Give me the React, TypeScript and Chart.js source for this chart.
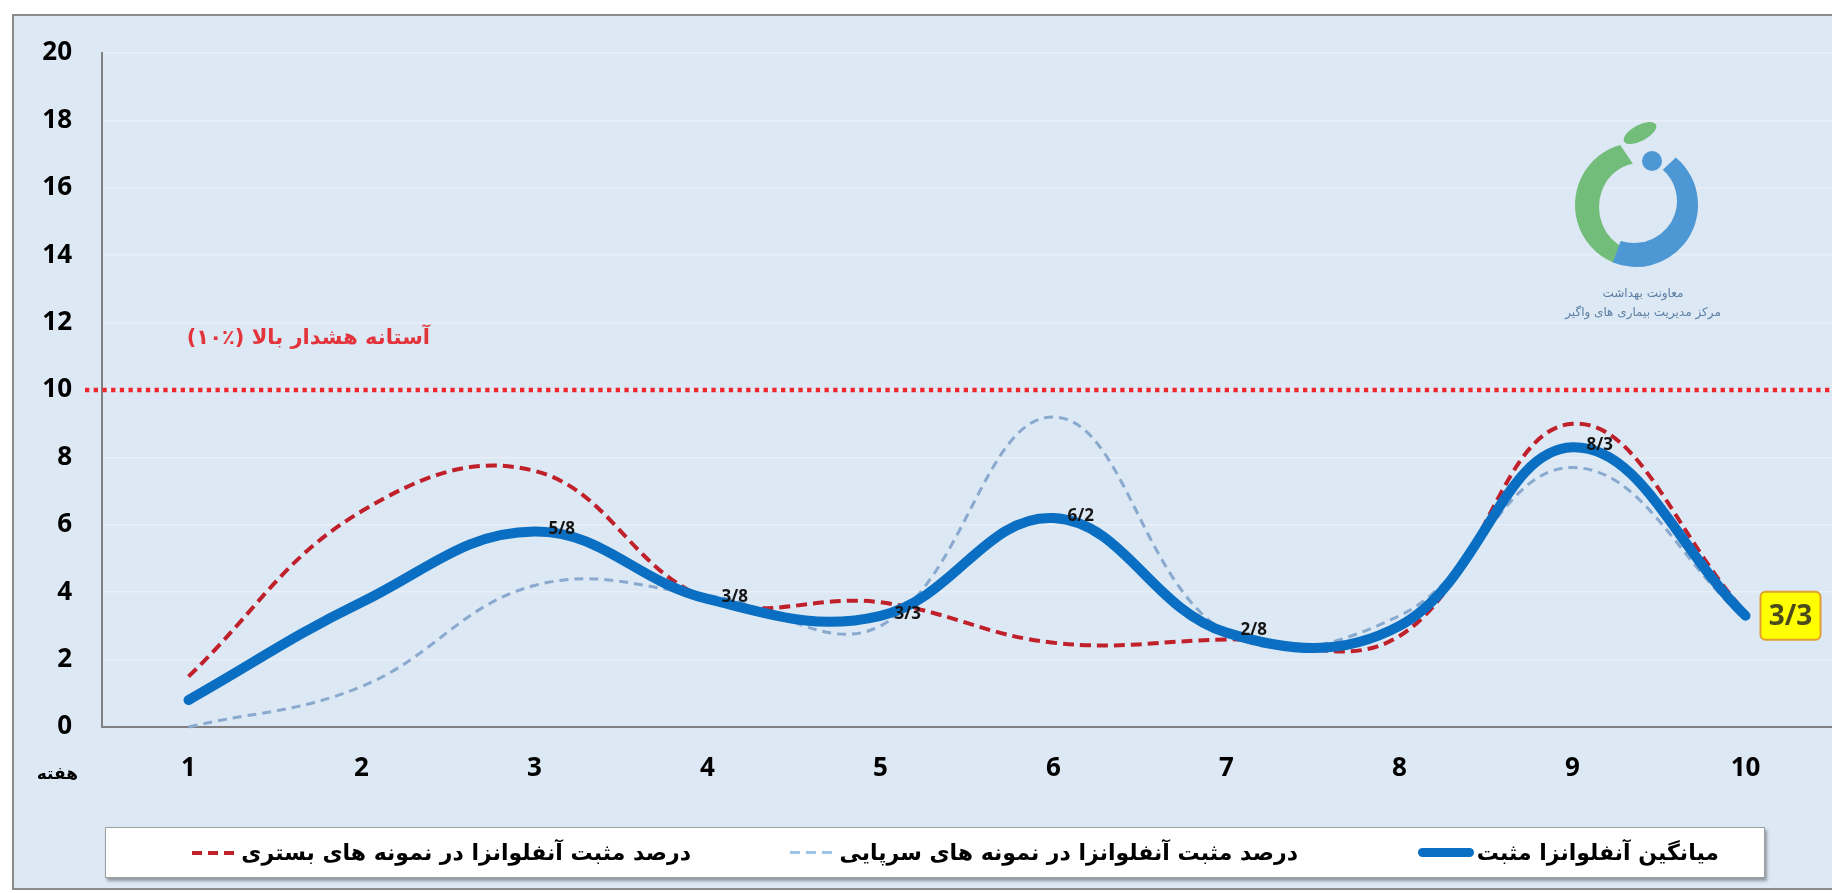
import React, { useEffect, useRef } from "react";
import { Chart, registerables } from "chart.js";

Chart.register(...registerables);

// ---- data ----
const weeks = ["1", "2", "3", "4", "5", "6", "7", "8", "9", "10"];
const averagePositive = [0.8, 3.7, 5.8, 3.8, 3.3, 6.2, 2.8, 3.0, 8.3, 3.3];
const inpatientPositive = [1.5, 6.4, 7.6, 3.8, 3.7, 2.5, 2.6, 2.7, 9.0, 3.4];
const outpatientPositive = [0.0, 1.2, 4.2, 3.9, 3.0, 9.2, 2.8, 3.3, 7.7, 3.2];
const averageLabelShown = [false, false, true, true, true, true, true, false, true, true];
const yMin = 0;
const yMax = 20;
const yStep = 2;
const threshold = 10;
const thresholdLabel = "آستانه هشدار بالا (٪۱۰)";
const xAxisTitle = "هفته";
const legendAverage = "میانگین آنفلوانزا مثبت";
const legendOutpatient = "درصد مثبت آنفلوانزا در نمونه های سرپایی";
const legendInpatient = "درصد مثبت آنفلوانزا در نمونه های بستری";
const logoLine1 = "معاونت بهداشت";
const logoLine2 = "مرکز مدیریت بیماری های واگیر";

const AVG_COLOR = "#0a6fc2";
const RED_COLOR = "#c0202a";
const LIGHT_COLOR = "#8aa9cf";
const LEGEND_LIGHT = "#9dc3e6";

const fmt = (v: number) => String(v.toFixed(1)).replace(".", "/");

const deg = (d: number) => (d * Math.PI) / 180;

export default function App() {
  const ref = useRef<HTMLCanvasElement>(null);

  useEffect(() => {
    const canvas = ref.current!;
    const decorPlugin = {
      id: "decor",
      beforeDatasetsDraw(chart: any) {
        const ctx = chart.ctx;
        const y = chart.scales.y.getPixelForValue(threshold);
        ctx.save();
        // threshold dotted line
        ctx.strokeStyle = "#f0262e";
        ctx.lineWidth = 4.5;
        ctx.setLineDash([4.3, 4.4]);
        ctx.beginPath();
        ctx.moveTo(chart.chartArea.left - 17, y);
        ctx.lineTo(chart.width, y);
        ctx.stroke();
        ctx.setLineDash([]);
        // logo
        const cx = 1636, cy = 205, r = 50;
        ctx.lineCap = "butt";
        // green arc (left side), slightly elongated vertically
        ctx.fillStyle = "#72bd79";
        ctx.beginPath();
        ctx.ellipse(cx, cy, r + 11, r + 12, 0, deg(-105), deg(112), true);
        ctx.ellipse(cx + 4, cy + 2, r - 9, r - 6, 0, deg(112), deg(-100), false);
        ctx.closePath();
        ctx.fill();
        // blue arc (right side)
        ctx.fillStyle = "#4d97d4";
        ctx.beginPath();
        ctx.ellipse(cx, cy, r + 12, r + 12, 0, deg(-50), deg(112), false);
        ctx.ellipse(cx - 2, cy - 4, r - 7, r - 8, 0, deg(108), deg(-48), true);
        ctx.closePath();
        ctx.fill();
        ctx.beginPath();
        ctx.arc(1652, 161, 10, 0, Math.PI * 2);
        ctx.fill();
        ctx.fillStyle = "#72bd79";
        ctx.beginPath();
        ctx.ellipse(1640, 133, 18, 8, deg(-28), 0, Math.PI * 2);
        ctx.fill();
        ctx.restore();
      },
      afterDatasetsDraw(chart: any) {
        const ctx = chart.ctx;
        const meta = chart.getDatasetMeta(0);
        const last = averagePositive.length - 1;
        ctx.save();
        meta.data.forEach((pt: any, i: number) => {
          if (!averageLabelShown[i]) return;
          const text = fmt(averagePositive[i]);
          if (i === last) {
            const bx = pt.x + 15, bw = 60, bh = 48, by = pt.y - bh / 2;
            ctx.fillStyle = "#ffff00";
            ctx.strokeStyle = "#e0a030";
            ctx.lineWidth = 2;
            ctx.beginPath();
            ctx.roundRect(bx, by, bw, bh, 5);
            ctx.fill();
            ctx.stroke();
            ctx.fillStyle = "#4a4a1c";
            ctx.font = 'bold 28px "Open Sans", sans-serif';
            ctx.textAlign = "center";
            ctx.textBaseline = "middle";
            ctx.fillText(text, bx + bw / 2, by + bh / 2 + 1);
          } else {
            ctx.fillStyle = "#151515";
            ctx.font = 'bold 17px "Open Sans", sans-serif';
            ctx.textAlign = "left";
            ctx.textBaseline = "middle";
            ctx.fillText(text, pt.x + 14, pt.y - 2);
          }
        });
        ctx.restore();
      },
    };

    const tickFont = { family: '"Open Sans", sans-serif', size: 26, weight: "bold" as const };

    const chart = new Chart(canvas, {
      type: "line",
      data: {
        labels: weeks,
        datasets: [
          {
            label: legendAverage,
            data: averagePositive,
            borderColor: AVG_COLOR,
            borderWidth: 10,
            borderCapStyle: "round",
            borderJoinStyle: "round",
            clip: false as any,
          },
          {
            label: legendInpatient,
            data: inpatientPositive,
            borderColor: RED_COLOR,
            borderWidth: 4,
            borderDash: [11, 6],
            clip: false as any,
          },
          {
            label: legendOutpatient,
            data: outpatientPositive,
            borderColor: LIGHT_COLOR,
            borderWidth: 3,
            borderDash: [9, 6],
            clip: false as any,
          },
        ],
      },
      options: {
        responsive: false,
        animation: false,
        devicePixelRatio: 1,
        layout: { padding: { top: 53, left: 0, right: 0, bottom: 0 } },
        elements: { point: { radius: 0 }, line: { tension: 0.4, fill: false } },
        plugins: { legend: { display: false }, tooltip: { enabled: false } },
        scales: {
          x: {
            type: "category",
            offset: true,
            grid: { display: false, drawTicks: false },
            border: { display: true, color: "#808080", width: 2 },
            ticks: { font: tickFont, color: "#000", padding: 26, maxRotation: 0 },
            afterFit: (s: any) => {
              s.height = 893 - 727;
            },
          },
          y: {
            min: yMin,
            max: yMax,
            ticks: { stepSize: yStep, font: tickFont, color: "#000", padding: 30 },
            grid: { color: "#e9eff6", lineWidth: 1.5, drawTicks: false },
            border: { display: true, color: "#808080", width: 2 },
            afterFit: (s: any) => {
              s.width = 102;
            },
          },
        },
      },
      plugins: [decorPlugin],
    });
    return () => chart.destroy();
  }, []);

  const persian = '"DejaVu Sans", sans-serif';

  return (
    <div style={{ position: "fixed", left: 0, top: 0, width: 1832, height: 893, background: "#fff", overflow: "hidden" }}>
      <div style={{ position: "absolute", left: 12, top: 14, width: 1830, height: 876, border: "2px solid #8c8c8c", background: "#dce8f4", boxSizing: "border-box" }} />
      <canvas ref={ref} width={1832} height={893} style={{ position: "absolute", left: 0, top: 0, width: 1832, height: 893 }} />
      <div style={{ position: "absolute", right: 1832 - 430, top: 322, height: 30, lineHeight: "30px", direction: "rtl", fontFamily: persian, fontWeight: "bold", fontSize: 21, color: "#e3343c", whiteSpace: "nowrap" }}>
        {thresholdLabel}
      </div>
      <div style={{ position: "absolute", right: 1832 - 78, top: 761, height: 24, lineHeight: "24px", direction: "rtl", fontFamily: persian, fontWeight: "bold", fontSize: 17, color: "#000", whiteSpace: "nowrap" }}>
        {xAxisTitle}
      </div>
      <div style={{ position: "absolute", left: 1536, width: 214, top: 284, lineHeight: "19px", direction: "rtl", textAlign: "center", fontFamily: persian, fontSize: 12, color: "#5d7fa3", whiteSpace: "nowrap" }}>
        <div>{logoLine1}</div>
        <div>{logoLine2}</div>
      </div>
      <div style={{ position: "absolute", left: 105, top: 827, width: 1660, height: 51, background: "#fff", border: "1px solid #a0a0a0", boxShadow: "2px 3px 3px rgba(0,0,0,0.35)", boxSizing: "border-box" }}>
        {[
          { text: legendAverage, right: 45, sample: { background: AVG_COLOR, height: 9, borderRadius: 5, width: 56 } },
          { text: legendOutpatient, right: 466, sample: { background: `repeating-linear-gradient(to right, ${LEGEND_LIGHT} 0 10px, transparent 10px 16px)`, height: 3, width: 46 } },
          { text: legendInpatient, right: 1073, sample: { background: `repeating-linear-gradient(to right, ${RED_COLOR} 0 10px, transparent 10px 16px)`, height: 4, width: 46 } },
        ].map((it, k) => (
          <div key={k} style={{ position: "absolute", right: it.right, top: 0, height: 49, display: "flex", alignItems: "center", direction: "rtl", gap: 3, whiteSpace: "nowrap" }}>
            <span style={{ fontFamily: persian, fontWeight: "bold", fontSize: 22, color: "#000" }}>{it.text}</span>
            <span style={{ display: "inline-block", ...it.sample }} />
          </div>
        ))}
      </div>
    </div>
  );
}
